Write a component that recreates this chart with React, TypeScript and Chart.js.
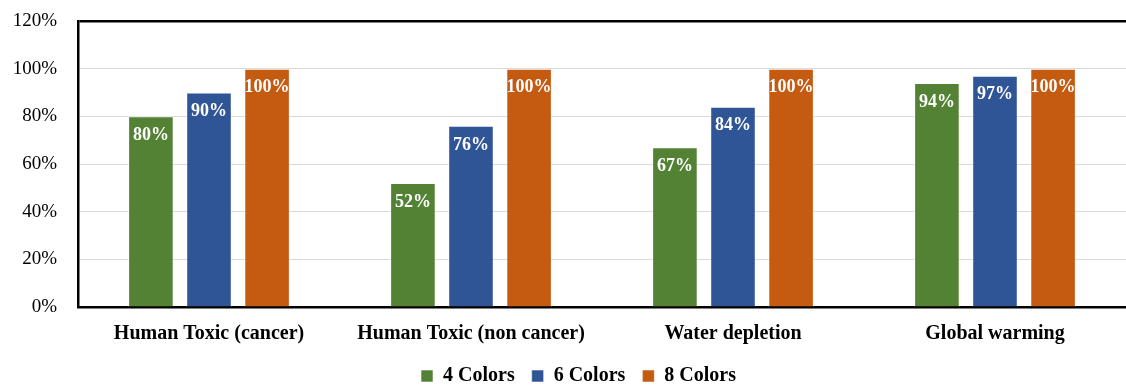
import React, { useEffect, useRef } from "react";
import { Chart, registerables } from "chart.js";

Chart.register(...registerables);

const categories = [
  "Human Toxic (cancer)",
  "Human Toxic (non cancer)",
  "Water depletion",
  "Global warming",
];
const seriesNames = ["4 Colors", "6 Colors", "8 Colors"];
const fourColors = [80, 52, 67, 94];
const sixColors = [90, 76, 84, 97];
const eightColors = [100, 100, 100, 100];
const seriesColors = ["#548235", "#2F5597", "#C55A11"];
const yTicks = [0, 20, 40, 60, 80, 100, 120];

const FONT = "'Liberation Serif', 'Times New Roman', serif";

// Writes each bar's percentage in white just inside its top edge.
const barValueLabels = {
  id: "barValueLabels",
  afterDatasetsDraw(chart: any) {
    const ctx = chart.ctx;
    ctx.save();
    ctx.font = `bold 18px ${FONT}`;
    ctx.fillStyle = "#FFFFFF";
    ctx.textAlign = "center";
    ctx.textBaseline = "middle";
    chart.data.datasets.forEach((ds: any, i: number) => {
      const meta = chart.getDatasetMeta(i);
      meta.data.forEach((bar: any, j: number) => {
        ctx.fillText(`${ds.data[j]}%`, bar.x, bar.y + 19);
      });
    });
    ctx.restore();
  },
};

// Nudges the legend row a little right and up from its default slot.
const legendOffset = {
  id: "legendOffset",
  afterLayout(chart: any) {
    const lg = chart.legend;
    if (!lg) return;
    const dx = 9;
    const dy = -12;
    lg.left += dx;
    lg.right += dx;
    lg.top += dy;
    lg.bottom += dy;
  },
};

export default function App() {
  const canvasRef = useRef<HTMLCanvasElement | null>(null);

  useEffect(() => {
    document.body.style.margin = "0";
    const canvas = canvasRef.current;
    if (!canvas) return;
    const values = [fourColors, sixColors, eightColors];
    const chart = new Chart(canvas, {
      type: "bar",
      data: {
        labels: categories,
        datasets: seriesNames.map((name, i) => ({
          label: name,
          data: values[i],
          backgroundColor: seriesColors[i],
          borderColor: "rgba(255,255,255,0.55)",
          borderWidth: 1,
          categoryPercentage: 0.665,
          barPercentage: 0.785,
        })),
      },
      options: {
        responsive: false,
        animation: false,
        layout: { padding: { left: 13, right: 0, top: 21, bottom: -22 } },
        plugins: {
          tooltip: { enabled: false },
          legend: {
            position: "bottom",
            labels: {
              font: { family: FONT, size: 20, weight: "bold" },
              color: "#000",
              boxWidth: 12,
              boxHeight: 12,
              padding: 17,
            },
          },
        },
        scales: {
          x: {
            grid: { display: false, drawTicks: false },
            border: { display: true, color: "#000", width: 2.5 },
            ticks: {
              padding: 15,
              color: "#000",
              font: { family: FONT, size: 20, weight: "bold" },
              maxRotation: 0,
            },
          },
          y: {
            min: 0,
            max: 120,
            afterBuildTicks(scale: any) {
              scale.ticks = yTicks.map((v) => ({ value: v }));
            },
            afterFit(scale: any) {
              scale.width = 65;
            },
            grid: {
              drawTicks: true,
              tickLength: 21,
              tickColor: "rgba(0,0,0,0)",
              color: (c: any) => (c.tick && c.tick.value === 120 ? "#000" : "#D9D9D9"),
              lineWidth: (c: any) => (c.tick && c.tick.value === 120 ? 2.5 : 1),
            },
            border: { display: true, color: "#000", width: 2.5 },
            ticks: {
              padding: 0,
              color: "#000",
              font: { family: FONT, size: 19 },
              callback: (v: any) => `${v}%`,
            },
          },
        },
      },
      plugins: [barValueLabels, legendOffset],
    });
    return () => chart.destroy();
  }, []);

  return (
    <div style={{ width: 1126, height: 386 }}>
      <canvas ref={canvasRef} width={1126} height={386} />
    </div>
  );
}
